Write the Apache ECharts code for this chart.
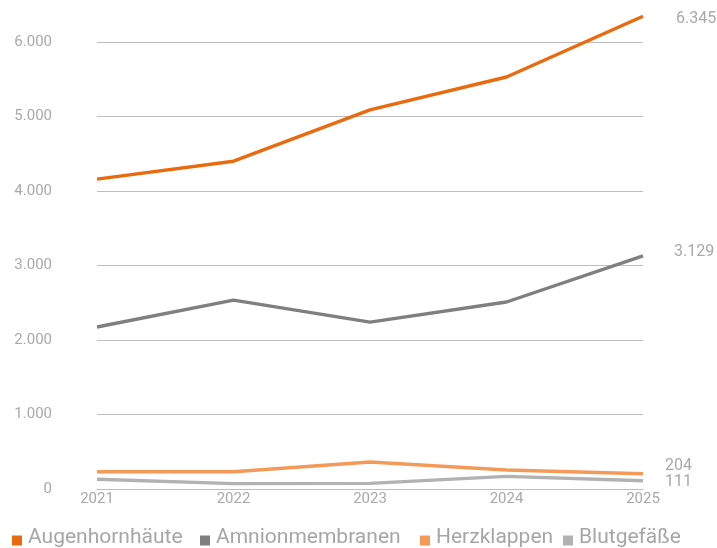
<!DOCTYPE html>
<html>
<head>
<meta charset="utf-8">
<script src="https://cdn.jsdelivr.net/npm/echarts@6/dist/echarts.min.js"></script>
<style>
  html, body { margin: 0; padding: 0; background: #fff; }
  #chart { width: 717px; height: 548px; }
</style>
</head>
<body>
<div id="chart"></div>
<script>
var years = ['2021', '2022', '2023', '2024', '2025'];
var seriesNames = ['Augenhornhäute', 'Amnionmembranen', 'Herzklappen', 'Blutgefäße'];
var augenhornhaeute = [4160, 4400, 5090, 5530, 6345];
var amnionmembranen = [2175, 2535, 2240, 2510, 3129];
var herzklappen = [232, 232, 362, 255, 204];
var blutgefaesse = [130, 72, 76, 170, 111];
var colors = ['#ea6a10', '#7f7f7f', '#f49a59', '#b2b2b2'];

// legend item x positions and end label placement (layout only)
var legendLefts = [7, 195, 415, 558];
var labelDist = [33, 31, 22, 22];
var labelOffset = [[0, 3], [0, -4], [0, -8], [0, 1]];

function fmt(v) {
    return String(Math.round(v)).replace(/\B(?=(\d{3})+(?!\d))/g, '.');
}

var chart = echarts.init(document.getElementById('chart'));

function makeSeries(idx, data) {
    return {
        name: seriesNames[idx],
        type: 'line',
        data: data,
        symbol: 'none',
        clip: false,
        lineStyle: { width: 3.4, color: colors[idx] },
        itemStyle: { color: colors[idx] },
        endLabel: {
            show: true,
            distance: labelDist[idx],
            offset: labelOffset[idx],
            color: '#a9a9a9',
            fontSize: 16,
            fontFamily: 'Roboto',
            formatter: function (p) { return fmt(p.value); }
        },
        labelLayout: { hideOverlap: false }
    };
}

var legends = seriesNames.map(function (name, i) {
    return {
        left: legendLefts[i],
        top: 522,
        icon: 'path://M0,0 M0,6 L10,6 L10,16 L0,16 Z',
        itemWidth: 12,
        itemHeight: 16,
        textStyle: { color: '#a6a6a6', fontSize: 21, fontFamily: 'Roboto' },
        data: [name]
    };
});

var option = {
    animation: false,
    color: colors,
    grid: { left: 97, right: 74, top: 42, bottom: 59, containLabel: false },
    legend: legends,
    xAxis: {
        type: 'category',
        data: years,
        boundaryGap: false,
        axisTick: { show: false },
        axisLine: { lineStyle: { color: '#bdbdbd', width: 1 } },
        axisLabel: { color: '#a9a9a9', fontSize: 15, fontFamily: 'Roboto', margin: 3 }
    },
    yAxis: {
        type: 'value',
        min: 0,
        max: 6000,
        interval: 1000,
        axisLine: { show: false },
        axisTick: { show: false },
        splitLine: { lineStyle: { color: '#bdbdbd', width: 1 } },
        axisLabel: {
            color: '#a9a9a9',
            fontSize: 15,
            fontFamily: 'Roboto',
            margin: 45,
            formatter: fmt
        }
    },
    series: [
        makeSeries(0, augenhornhaeute),
        makeSeries(1, amnionmembranen),
        makeSeries(2, herzklappen),
        makeSeries(3, blutgefaesse)
    ]
};

chart.setOption(option);
window.addEventListener('resize', chart.resize);
</script>
</body>
</html>
